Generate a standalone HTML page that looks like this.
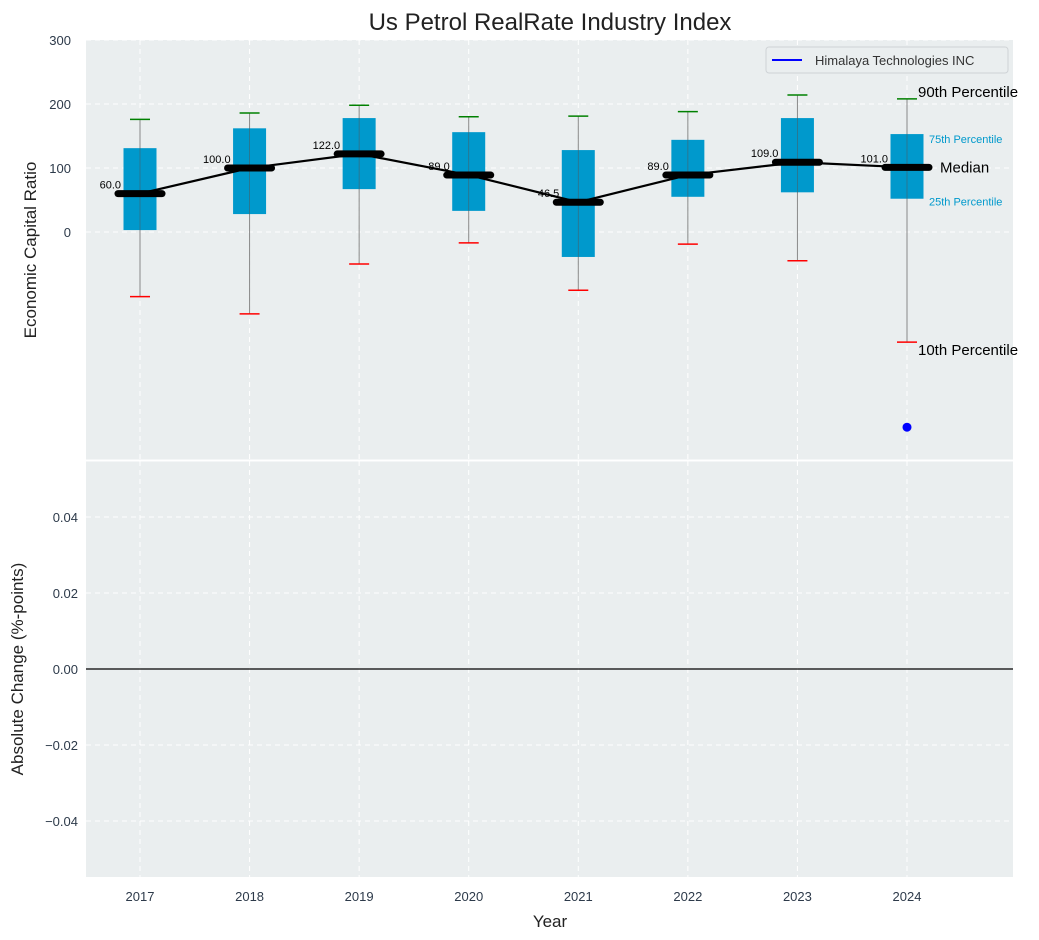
<!DOCTYPE html>
<html><head><meta charset="utf-8"><style>
body{margin:0;background:#fff;}
svg{display:block;font-family:"Liberation Sans","DejaVu Sans",sans-serif;}
</style></head><body>
<svg id="chart" width="1039" height="940" viewBox="0 0 1039 940"></svg>
<script>
const years=[2017,2018,2019,2020,2021,2022,2023,2024];
const p90=[176,186,198,180,181,188,214,208];
const p75=[131,162,178,156,128,144,178,153];
const medians=[60,100,122,89,46.5,89,109,101];
const p25=[3,28,67,33,-39,55,62,52];
const p10=[-101,-128,-50,-17,-91,-19,-45,-172];
const companyYears=[2024];
const companyValues=[-305];
const topTicks=[0,100,200,300];
const bottomTicks=[-0.04,-0.02,0,0.02,0.04];
const changeValues=[];

const NS="http://www.w3.org/2000/svg";
const svg=document.getElementById('chart');
function el(tag,attrs,parent,text){const e=document.createElementNS(NS,tag);for(const k in attrs)e.setAttribute(k,attrs[k]);if(text!==undefined)e.textContent=text;(parent||svg).appendChild(e);return e;}
const L=86,R=1013;
const xs=y=>140+(y-2017)*(907-140)/7;
const yT=v=>232-v*0.64;
const yB=v=>669-v*3800;

let t=el('rect',{x:L,y:40,width:R-L,height:420,fill:'#eaeeef'});

t=el('rect',{x:L,y:461,width:R-L,height:416,fill:'#eaeeef'});


years.forEach(y=>{
 el('line',{x1:xs(y),x2:xs(y),y1:40,y2:460,stroke:'#fff','stroke-dasharray':'5,4','stroke-width':1});
 el('line',{x1:xs(y),x2:xs(y),y1:461,y2:877,stroke:'#fff','stroke-dasharray':'5,4','stroke-width':1});
 t=el('text',{x:xs(y),y:901,'text-anchor':'middle','font-size':13,fill:'#2d3a4a'},svg,y);
 
});
topTicks.forEach(v=>{
 el('line',{x1:L,x2:R,y1:yT(v),y2:yT(v),stroke:'#fff','stroke-dasharray':'5,4'});
 t=el('text',{x:71,y:yT(v)+5,'text-anchor':'end','font-size':13,fill:'#2d3a4a'},svg,v);
 
});
bottomTicks.forEach(v=>{
 el('line',{x1:L,x2:R,y1:yB(v),y2:yB(v),stroke:'#fff','stroke-dasharray':'5,4'});
 const s=(v<0?'\u2212':'')+Math.abs(v).toFixed(2);
 t=el('text',{x:78,y:yB(v)+5,'text-anchor':'end','font-size':13,fill:'#2d3a4a'},svg,s);
 
});
el('line',{x1:L,x2:R,y1:yB(0),y2:yB(0),stroke:'#000','stroke-width':1.2});

years.forEach((y,i)=>{
 const x=xs(y);
 let w=el('line',{x1:x,x2:x,y1:yT(p90[i]),y2:yT(p10[i]),stroke:'#888','stroke-width':1});
 
 let b=el('rect',{x:x-16.5,y:yT(p75[i]),width:33,height:yT(p25[i])-yT(p75[i]),fill:'#0099cc'});
 
 el('line',{x1:x,x2:x,y1:yT(p75[i]),y2:yT(p25[i]),stroke:'#555','stroke-width':0.8,'stroke-opacity':0.6});
 let c=el('line',{x1:x-10,x2:x+10,y1:yT(p90[i]),y2:yT(p90[i]),stroke:'green','stroke-width':1.5});
 
 c=el('line',{x1:x-10,x2:x+10,y1:yT(p10[i]),y2:yT(p10[i]),stroke:'red','stroke-width':1.5});
 
});
let pl=el('polyline',{points:years.map((y,i)=>xs(y)+','+yT(medians[i])).join(' '),fill:'none',stroke:'#000','stroke-width':2.2});

years.forEach((y,i)=>{
 const x=xs(y);
 let m=el('line',{x1:x-22,x2:x+22,y1:yT(medians[i]),y2:yT(medians[i]),stroke:'#000','stroke-width':7,'stroke-linecap':'round'});
 
 let lb=el('text',{x:x-19,y:yT(medians[i])-5,'text-anchor':'end','font-size':11,fill:'#000'},svg,medians[i].toFixed(1));
 
});
companyYears.forEach((y,i)=>{
 let d=el('circle',{cx:xs(y),cy:yT(companyValues[i]),r:4.5,fill:'blue'});
 
});
const lx=xs(2024);
const ann=[['90th Percentile',lx+11,yT(p90[7])-2,15,'#000'],['75th Percentile',lx+22,yT(p75[7])+9,11,'#0099cc'],['Median',lx+33,yT(medians[7])+5,15,'#000'],['25th Percentile',lx+22,yT(p25[7])+7,11,'#0099cc'],['10th Percentile',lx+11,yT(p10[7])+13,15,'#000']];
ann.forEach(a=>{let e=el('text',{x:a[1],y:a[2],'font-size':a[3],fill:a[4]},svg,a[0]);});

let lg=el('g',{});

el('rect',{x:766,y:47,width:242,height:26,rx:3,fill:'#eaeeef',stroke:'#cfd3d6'},lg);
el('line',{x1:772,x2:802,y1:60,y2:60,stroke:'blue','stroke-width':2},lg);
el('text',{x:815,y:65,'font-size':13,fill:'#333'},lg,'Himalaya Technologies INC');

el('line',{x1:L,x2:R,y1:460.5,y2:460.5,stroke:'#fff','stroke-width':2});

t=el('text',{x:550,y:30,'text-anchor':'middle','font-size':24,fill:'#222'},svg,'Us Petrol RealRate Industry Index');

t=el('text',{x:550,y:927,'text-anchor':'middle','font-size':17,fill:'#222'},svg,'Year');

t=el('text',{x:0,y:0,'text-anchor':'middle','font-size':17,fill:'#222',transform:'translate(36,250) rotate(-90)'},svg,'Economic Capital Ratio');

t=el('text',{x:0,y:0,'text-anchor':'middle','font-size':17,fill:'#222',transform:'translate(23,669) rotate(-90)'},svg,'Absolute Change (%-points)');

</script>
</body></html>
